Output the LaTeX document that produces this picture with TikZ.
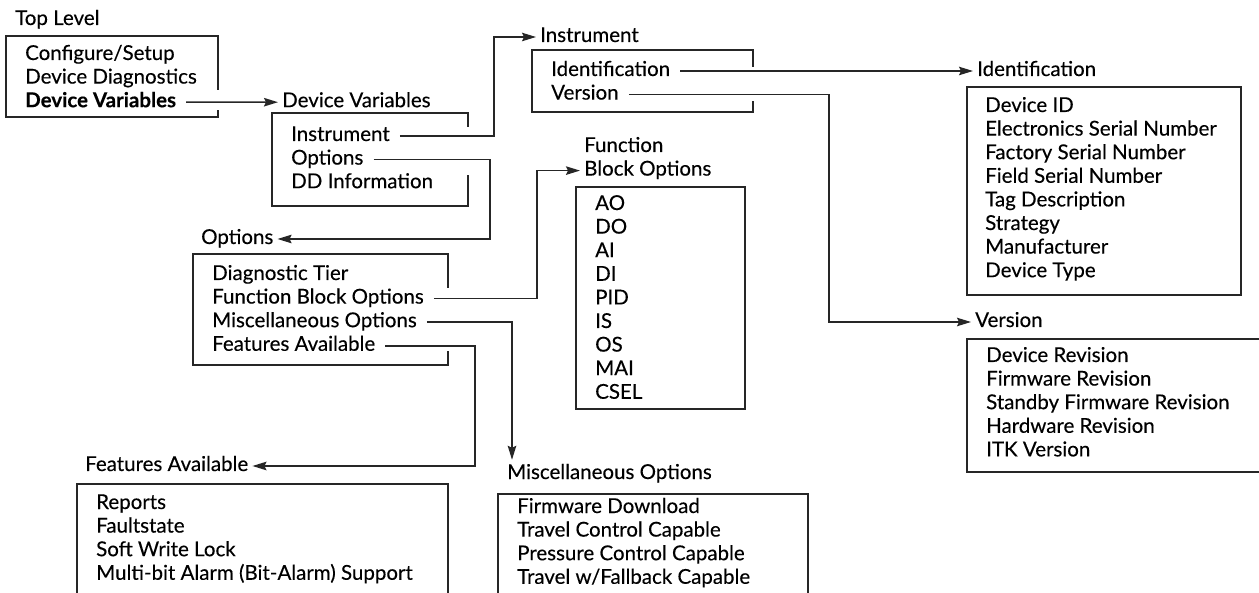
\documentclass[tikz,border=0pt]{standalone}
\usepackage{fontspec}
\setmainfont{Lato}[UprightFeatures={FakeBold=0.25},BoldFeatures={FakeBold=0.3}]
\usetikzlibrary{arrows.meta,positioning}

\begin{document}
\begin{tikzpicture}[x=1pt,y=-1pt,font=\fontsize{20.5}{24}\selectfont,
  listitem/.style={anchor=west,inner xsep=0pt,inner ysep=0pt,text height=14pt,text depth=4pt},
  heading/.style={listitem,inner xsep=4pt,inner ysep=5pt},
  nextitem/.style={below=23.6pt of #1.west,anchor=west},
  frame/.style={line width=1.5pt,draw=black!85},
  link/.style={frame,-{Stealth[length=14pt,width=8.5pt,inset=2pt]},shorten <=10pt}]
\useasboundingbox (0,0) rectangle (1259,593);

% Top Level
\node[heading] (tlTitle) at (11,20) {Top Level};
\node[listitem] (tlConf) at (25,55) {Configure/Setup};
\node[listitem,nextitem=tlConf] (tlDiag) {Device Diagnostics};
\node[listitem,nextitem=tlDiag] (tlVar) {\textbf{Device Variables}};
\draw[frame] (218,90) |- (6,36) |- (218,117) -- (218,110);

% Device Variables
\node[heading] (dvTitle) at (278,102.2) {Device Variables};
\node[listitem] (dvInst) at (291,136) {Instrument};
\node[listitem,nextitem=dvInst] (dvOpt) {Options};
\node[listitem,nextitem=dvOpt] (dvDD) {DD Information};
\draw[frame] (468,127) |- (272,113) |- (468,206) -- (468,175);

% Instrument
\node[heading] (inTitle) at (536,37) {Instrument};
\node[listitem] (inIdent) at (551,71) {Identification};
\node[listitem,nextitem=inIdent] (inVer) {Version};
\draw[frame] (753,67) |- (532,50) |- (753,112) -- (753,101);

% Identification
\node[heading] (idTitle) at (973,71) {Identification};
\node[listitem] (idDev) at (985,107) {Device ID};
\node[listitem,nextitem=idDev] (idElec) {Electronics Serial Number};
\node[listitem,nextitem=idElec] (idFact) {Factory Serial Number};
\node[listitem,nextitem=idFact] (idField) {Field Serial Number};
\node[listitem,nextitem=idField] (idTag) {Tag Description};
\node[listitem,nextitem=idTag] (idStrat) {Strategy};
\node[listitem,nextitem=idStrat] (idManu) {Manufacturer};
\node[listitem,nextitem=idManu] (idType) {Device Type};
\draw[frame] (967,87) rectangle (1241,295);

% Version
\node[heading] (veTitle) at (971,322) {Version};
\node[listitem] (veDev) at (986,357) {Device Revision};
\node[listitem,nextitem=veDev] (veFirm) {Firmware Revision};
\node[listitem,nextitem=veFirm] (veStby) {Standby Firmware Revision};
\node[listitem,nextitem=veStby] (veHard) {Hardware Revision};
\node[listitem,nextitem=veHard] (veItk) {ITK Version};
\draw[frame] (1265,339) -| (967,472) -- (1265,472);

% Function Block Options
\node[heading] (fbTitleA) at (580,147) {Function};
\node[heading,nextitem=fbTitleA] (fbTitle) {Block Options};
\node[listitem] (fbAO) at (595,205) {AO};
\node[listitem,nextitem=fbAO] (fbDO) {DO};
\node[listitem,nextitem=fbDO] (fbAI) {AI};
\node[listitem,nextitem=fbAI] (fbDI) {DI};
\node[listitem,nextitem=fbDI] (fbPID) {PID};
\node[listitem,nextitem=fbPID] (fbIS) {IS};
\node[listitem,nextitem=fbIS] (fbOS) {OS};
\node[listitem,nextitem=fbOS] (fbMAI) {MAI};
\node[listitem,nextitem=fbMAI] (fbCSEL) {CSEL};
\draw[frame] (576,187) rectangle (745,409);

% Options
\node[heading] (opTitle) at (197,239) {Options};
\node[listitem] (opTier) at (212,275) {Diagnostic Tier};
\node[listitem,nextitem=opTier] (opFbo) {Function Block Options};
\node[listitem,nextitem=opFbo] (opMisc) {Miscellaneous Options};
\node[listitem,nextitem=opMisc] (opFeat) {Features Available};
\draw[frame] (448,288) |- (193,254) |- (448,365) -- (448,351);

% Features Available
\node[heading] (faTitle) at (81,466) {Features Available};
\node[listitem] (faRep) at (96,504) {Reports};
\node[listitem,nextitem=faRep] (faFault) {Faultstate};
\node[listitem,nextitem=faFault] (faLock) {Soft Write Lock};
\node[listitem,nextitem=faLock] (faAlarm) {Multi-bit Alarm (Bit-Alarm) Support};
\draw[frame] (77,600) |- (448,484) -- (448,600);

% Miscellaneous Options
\node[heading] (moTitle) at (503,474) {Miscellaneous Options};
\node[listitem] (moFirm) at (517,508) {Firmware Download};
\node[listitem,nextitem=moFirm] (moTrav) {Travel Control Capable};
\node[listitem,nextitem=moTrav] (moPres) {Pressure Control Capable};
\node[listitem,nextitem=moPres] (moFall) {Travel w/Fallback Capable};
\draw[frame] (498,600) |- (808,494) -- (808,600);

% bend columns
\coordinate (cInst) at (494,0);
\coordinate (cOpt) at (490,0);
\coordinate (cVer) at (829,0);
\coordinate (cFbo) at (537,0);
\coordinate (cMisc) at (512,0);
\coordinate (cFeat) at (475,0);

\draw[link] (tlVar.east) -- (dvTitle.west);
\draw[link] (dvInst.east) -- (dvInst.east -| cInst) |- (inTitle.west);
\draw[link] (dvOpt.east) -- (dvOpt.east -| cOpt) |- (opTitle.east);
\draw[link] (inIdent.east) -- (idTitle.west);
\draw[link] (inVer.east) -- (inVer.east -| cVer) |- (veTitle.west);
\draw[link] (opFbo.east) -- (opFbo.east -| cFbo) |- (fbTitle.west);
\draw[link] (opMisc.east) -- (opMisc.east -| cMisc) -- (cMisc |- moTitle.north);
\draw[link] (opFeat.east) -- (opFeat.east -| cFeat) |- (faTitle.east);
\end{tikzpicture}
\end{document}
